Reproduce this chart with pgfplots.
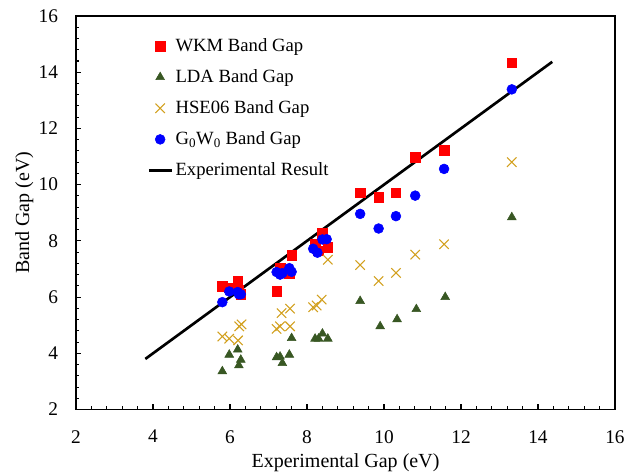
\documentclass[border=0pt]{standalone}
\usepackage{pgfplots}
\pgfplotsset{compat=1.18}
\usepackage{fontspec}
\setmainfont{Liberation Serif}
\definecolor{wkm}{RGB}{255,0,0}
\definecolor{lda}{RGB}{56,87,35}
\definecolor{hse}{RGB}{210,160,30}
\definecolor{gw}{RGB}{0,0,255}

\begin{document}
\begin{tikzpicture}
\begin{axis}[
scale only axis,
width=404pt, height=295pt,
xmin=2, xmax=16, ymin=2, ymax=16,
xtick={2,4,...,16}, ytick={2,4,...,16},
minor tick num=4,
tick align=inside,
xtick pos=bottom, ytick pos=left,
major tick length=4pt, minor tick length=2.5pt,
axis line style={line width=1pt},
every tick/.style={black, line width=0.8pt},
/pgf/number format/assume math mode=true,
ticklabel style={font=\fontsize{14.5}{16}\selectfont},
xticklabel style={yshift=-12pt},
yticklabel style={xshift=-10pt},
xlabel={Experimental Gap (eV)},
ylabel={Band Gap (eV)},
label style={font=\fontsize{15}{17}\selectfont},
xlabel style={yshift=-0.5pt},
ylabel style={yshift=-3pt},
legend cell align=left,
legend style={draw=none, fill=none, at={(0.132,0.950)}, anchor=north west,
  font=\fontsize{14}{16}\selectfont, row sep=8.1pt, inner sep=0pt},
clip=false,
]
% WKM
\addplot[only marks, mark=square*, mark size=3.6pt, color=wkm] coordinates {
(5.80,6.38) (5.98,6.33) (6.20,6.56) (6.23,6.25) (6.28,6.10)
(7.21,6.20) (7.30,7.05) (7.36,6.90) (7.54,6.85) (7.60,7.49)
(8.21,7.90) (8.30,7.65) (8.40,8.26) (8.54,7.78)
(9.38,9.71) (9.86,9.56) (10.31,9.71) (10.81,10.97) (11.56,11.22) (13.32,14.33)
};
\addlegendentry{WKM Band Gap}
% LDA
\addplot[only marks, mark=triangle*, mark size=3.8pt, color=lda] coordinates {
(5.80,3.36) (5.98,3.95) (6.20,4.13) (6.23,3.57) (6.28,3.77)
(7.21,3.86) (7.30,3.88) (7.36,3.65) (7.54,3.95) (7.60,4.54)
(8.21,4.52) (8.30,4.52) (8.40,4.70) (8.54,4.52)
(9.38,5.86) (9.90,4.96) (10.34,5.21) (10.84,5.57) (11.59,6.00) (13.32,8.84)
};
\addlegendentry{LDA Band Gap}
% HSE06
\addplot[only marks, mark=x, mark size=5pt, color=hse, mark options={line width=0.8pt}] coordinates {
(5.80,4.60) (5.98,4.52) (6.21,4.46) (6.24,4.96) (6.30,5.03)
(7.21,4.87) (7.30,4.96) (7.34,5.43) (7.56,5.59) (7.56,4.96)
(8.16,5.64) (8.25,5.70) (8.38,5.91) (8.54,7.33)
(9.38,7.14) (9.86,6.57) (10.31,6.86) (10.81,7.51) (11.56,7.88) (13.32,10.80)
};
\addlegendentry{HSE06 Band Gap}
% G0W0
\addplot[only marks, mark=*, mark size=3.7pt, color=gw] coordinates {
(5.80,5.82) (5.98,6.20) (6.20,6.18) (6.23,6.10) (6.28,6.10)
(7.21,6.89) (7.30,6.80) (7.36,6.85) (7.54,7.03) (7.60,6.90)
(8.16,7.72) (8.27,7.58) (8.40,8.05) (8.51,8.06)
(9.38,8.96) (9.86,8.44) (10.31,8.88) (10.81,9.61) (11.56,10.56) (13.32,13.39)
};
\addlegendentry{ G\textsubscript{0}W\textsubscript{0} Band Gap}
% experimental line
\addplot[black, line width=2pt] coordinates {(3.8,3.8) (14.37,14.37)};
\addlegendentry{Experimental Result}
\end{axis}
\useasboundingbox (current axis.south west) ++(-57pt,-47.25pt) rectangle ([shift={(16.5pt,12pt)}]current axis.north east);
\end{tikzpicture}
\end{document}
